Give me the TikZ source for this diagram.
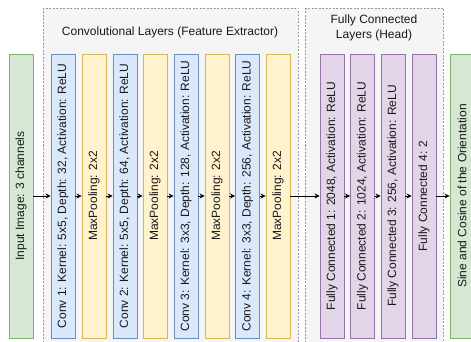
\documentclass[tikz,border=0pt]{standalone}
\usepackage{fontspec}
\setmainfont{Liberation Sans}
\usetikzlibrary{arrows.meta}

\definecolor{convfill}{HTML}{DAE8FC}
\definecolor{convline}{HTML}{6C8EBF}
\definecolor{poolfill}{HTML}{FFF2CC}
\definecolor{poolline}{HTML}{D6B656}
\definecolor{fcfill}{HTML}{E1D5E7}
\definecolor{fcline}{HTML}{9673A6}
\definecolor{iofill}{HTML}{D5E8D4}
\definecolor{ioline}{HTML}{82B366}
\definecolor{grpfill}{HTML}{F5F5F5}
\definecolor{grpline}{HTML}{999999}

\tikzset{
    layer/.style={rotate=90, minimum width=284pt, minimum height=24pt, inner sep=0pt,
        line width=0.8pt, font=\fontsize{12}{14}\selectfont, text=black!90},
    conv/.style={layer, draw=convline, fill=convfill},
    pool/.style={layer, draw=poolline, fill=poolfill},
    fc/.style={layer, draw=fcline, fill=fcfill},
    io/.style={layer, draw=ioline, fill=iofill},
    group/.style={draw=grpline, fill=grpfill, line width=0.8pt, dash pattern=on 2pt off 1.5pt},
    title/.style={font=\fontsize{12}{15}\selectfont, align=center, text=black!90},
    arr/.style={-{Stealth[length=5pt, width=5pt]}, line width=0.8pt}
}

\begin{document}
\begin{tikzpicture}[x=1pt, y=-1pt]
    \useasboundingbox (0, 0) rectangle (471, 342);

    \draw [group] (43, 8) rectangle (298, 352);
    \draw [group] (305, 8) rectangle (443, 352);
    \node [title] (convtitle) at (170, 32) {Convolutional Layers (Feature Extractor)};
    \node [title] (fctitle) at (374, 28) {Fully Connected\\Layers (Head)};

    \node [io] (input) at (21, 196) {Input Image: 3 channels};

    \node [conv] (conv1) at (63, 196) {Conv 1: Kernel: 5x5, Depth: 32, Activation: ReLU};
    \node [pool] (pool1) at (94, 196) {MaxPooling: 2x2};
    \node [conv] (conv2) at (125, 196) {Conv 2: Kernel: 5x5, Depth: 64, Activation: ReLU};
    \node [pool] (pool2) at (155, 196) {MaxPooling: 2x2};
    \node [conv] (conv3) at (186, 196) {Conv 3: Kernel: 3x3, Depth: 128, Activation: ReLU};
    \node [pool] (pool3) at (217, 196) {MaxPooling: 2x2};
    \node [conv] (conv4) at (247.5, 196) {Conv 4: Kernel: 3x3, Depth: 256, Activation: ReLU};
    \node [pool] (pool4) at (278, 196) {MaxPooling: 2x2};

    \node [fc] (fc1) at (332, 196) {Fully Connected 1: 2048, Activation: ReLU};
    \node [fc] (fc2) at (362.5, 196) {Fully Connected 2: 1024, Activation: ReLU};
    \node [fc] (fc3) at (393, 196) {Fully Connected 3: 256, Activation: ReLU};
    \node [fc] (fc4) at (424, 196) {Fully Connected 4: 2};

    \node [io] (output) at (462, 196) {Sine and Cosine of the Orientation};

    \draw [arr] (input) -- (conv1);
    \draw [arr] (conv1) -- (pool1);
    \draw [arr] (pool1) -- (conv2);
    \draw [arr] (conv2) -- (pool2);
    \draw [arr] (pool2) -- (conv3);
    \draw [arr] (conv3) -- (pool3);
    \draw [arr] (pool3) -- (conv4);
    \draw [arr] (conv4) -- (pool4);
    \draw [arr] (pool4) -- (fc1);
    \draw [arr] (fc1) -- (fc2);
    \draw [arr] (fc2) -- (fc3);
    \draw [arr] (fc3) -- (fc4);
    \draw [arr] (fc4) -- (output);
\end{tikzpicture}
\end{document}
